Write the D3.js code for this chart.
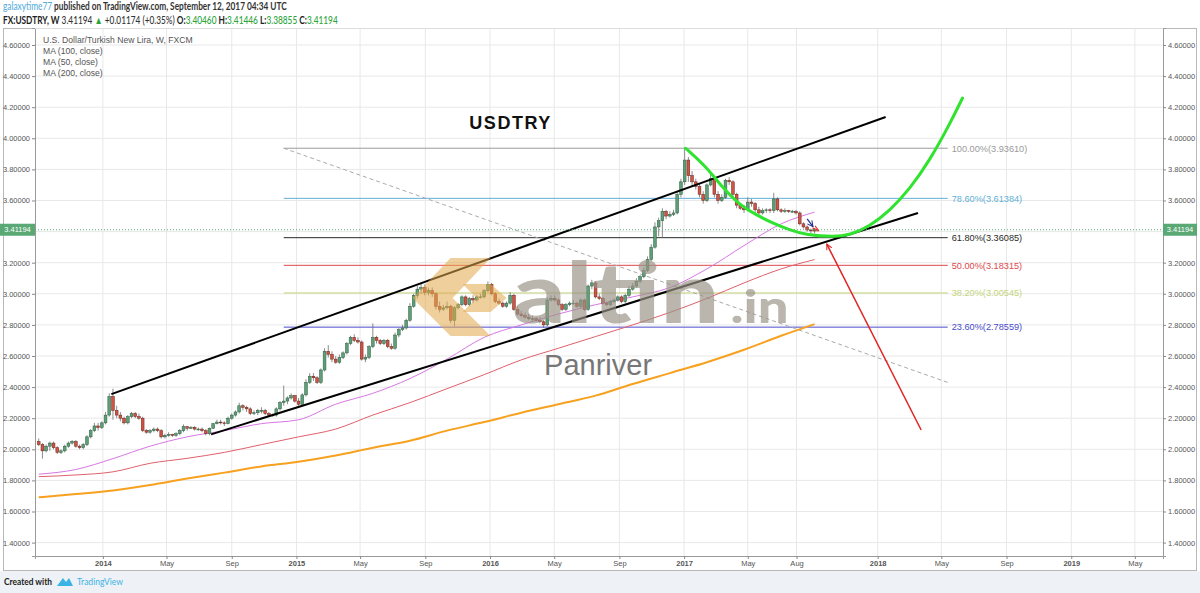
<!DOCTYPE html>
<html><head><meta charset="utf-8">
<script src="https://cdn.jsdelivr.net/npm/d3@7"></script>
<style>body{margin:0;background:#fff;}svg{display:block;font-family:"Liberation Sans",Arial,sans-serif;}</style>
</head><body><svg id="c" width="1200" height="593"></svg>
<script>
// ---------- DATA ----------
const firstWeek = "2013-09-02";
const firstOpen = 2.05;
const closes = [2.03,1.99,2.02,2.04,2.01,1.98,1.99,2.02,2.04,2.05,
 2.02,2.01,2.03,2.08,2.12,2.15,2.14,2.17,2.22,2.34,
 2.25,2.22,2.20,2.17,2.21,2.23,2.21,2.20,2.12,2.11,
 2.12,2.13,2.12,2.08,2.09,2.095,2.09,2.10,2.12,2.145,
 2.135,2.14,2.13,2.13,2.12,2.10,2.135,2.165,2.175,2.17,
 2.165,2.20,2.22,2.24,2.28,2.27,2.26,2.23,2.235,2.25,
 2.25,2.23,2.22,2.22,2.26,2.30,2.31,2.33,2.345,2.31,
 2.29,2.35,2.43,2.47,2.46,2.43,2.51,2.63,2.61,2.58,
 2.56,2.59,2.62,2.68,2.72,2.70,2.69,2.58,2.59,2.66,
 2.72,2.70,2.68,2.70,2.66,2.65,2.735,2.77,2.78,2.83,
 2.92,2.99,3.03,3.04,3.01,3.02,3.00,2.92,2.90,2.91,
 2.92,2.83,2.91,2.93,2.98,2.93,2.97,2.96,2.98,2.98,
 3.02,3.06,3.00,2.95,2.94,2.92,2.94,2.99,2.90,2.87,
 2.86,2.85,2.84,2.84,2.83,2.82,2.80,2.96,2.97,2.96,
 2.93,2.90,2.93,2.94,2.94,2.92,2.96,2.90,3.05,3.07,
 2.98,2.97,2.94,2.93,2.95,2.96,2.98,2.95,2.99,3.03,
 3.05,3.08,3.11,3.15,3.22,3.30,3.43,3.47,3.53,3.50,
 3.51,3.52,3.64,3.72,3.86,3.76,3.72,3.69,3.64,3.60,
 3.70,3.74,3.64,3.60,3.62,3.73,3.72,3.64,3.57,3.55,
 3.54,3.59,3.58,3.54,3.52,3.535,3.54,3.535,3.61,3.54,
 3.53,3.535,3.53,3.53,3.52,3.45,3.43,3.41,3.4046,3.41194];
const highs = [2.07,2.04,2.03,2.05,2.05,2.02,2.00,2.03,2.05,2.06,
 2.06,2.03,2.04,2.09,2.13,2.17,2.17,2.18,2.24,2.36,
 2.39,2.28,2.24,2.21,2.22,2.24,2.24,2.23,2.21,2.13,
 2.13,2.14,2.14,2.13,2.10,2.11,2.10,2.11,2.13,2.16,
 2.15,2.15,2.15,2.14,2.14,2.13,2.14,2.17,2.19,2.19,
 2.18,2.21,2.23,2.25,2.30,2.29,2.28,2.27,2.25,2.26,
 2.27,2.26,2.24,2.23,2.27,2.31,2.41,2.34,2.36,2.35,
 2.33,2.36,2.45,2.49,2.49,2.47,2.52,2.65,2.67,2.63,
 2.60,2.61,2.63,2.69,2.73,2.74,2.72,2.70,2.61,2.67,
 2.81,2.73,2.71,2.71,2.71,2.68,2.75,2.78,2.80,2.84,
 2.94,3.00,3.05,3.07,3.06,3.04,3.04,3.01,2.95,2.93,
 2.95,2.93,2.92,2.94,2.99,2.99,2.98,2.99,2.99,3.00,
 3.03,3.08,3.07,3.01,2.97,2.95,2.95,3.01,3.00,2.92,
 2.89,2.88,2.87,2.86,2.85,2.85,2.83,2.98,2.99,2.99,
 2.97,2.94,2.94,2.95,2.96,2.95,2.97,2.97,3.06,3.09,
 3.08,3.00,2.98,2.95,2.96,2.97,2.99,2.99,3.00,3.05,
 3.07,3.10,3.12,3.17,3.24,3.32,3.46,3.49,3.55,3.54,
 3.53,3.54,3.66,3.74,3.94,3.88,3.79,3.74,3.71,3.66,
 3.71,3.78,3.75,3.66,3.64,3.74,3.75,3.73,3.65,3.58,
 3.57,3.62,3.61,3.59,3.56,3.55,3.55,3.55,3.65,3.62,
 3.55,3.55,3.54,3.54,3.54,3.53,3.46,3.44,3.42,3.41446];
const lows = [2.02,1.94,1.98,1.99,2.00,1.97,1.97,1.98,2.01,2.03,
 2.01,2.00,2.00,2.02,2.07,2.11,2.12,2.13,2.16,2.21,
 2.19,2.20,2.18,2.16,2.16,2.20,2.20,2.19,2.11,2.10,
 2.10,2.11,2.11,2.07,2.07,2.08,2.08,2.08,2.09,2.11,
 2.12,2.13,2.12,2.12,2.11,2.09,2.09,2.13,2.16,2.16,
 2.15,2.16,2.19,2.21,2.23,2.25,2.24,2.22,2.22,2.22,
 2.23,2.22,2.21,2.21,2.21,2.25,2.28,2.29,2.32,2.30,
 2.28,2.28,2.34,2.42,2.44,2.42,2.42,2.50,2.59,2.56,
 2.55,2.55,2.58,2.61,2.67,2.69,2.68,2.57,2.56,2.58,
 2.65,2.68,2.67,2.67,2.65,2.64,2.64,2.72,2.76,2.77,
 2.82,2.91,2.97,3.00,2.99,2.99,2.98,2.90,2.88,2.89,
 2.90,2.81,2.79,2.90,2.92,2.92,2.92,2.94,2.95,2.97,
 2.97,3.01,2.99,2.94,2.93,2.91,2.91,2.93,2.89,2.86,
 2.85,2.84,2.83,2.82,2.82,2.81,2.78,2.79,2.95,2.95,
 2.92,2.89,2.89,2.92,2.93,2.91,2.91,2.89,2.89,3.03,
 2.97,2.96,2.93,2.92,2.92,2.94,2.95,2.94,2.94,2.98,
 3.02,3.04,3.07,3.10,3.14,3.21,3.29,3.37,3.36,3.48,
 3.49,3.50,3.51,3.62,3.70,3.72,3.69,3.67,3.62,3.58,
 3.59,3.69,3.62,3.58,3.59,3.61,3.70,3.62,3.55,3.54,
 3.52,3.53,3.56,3.52,3.50,3.51,3.52,3.52,3.52,3.53,
 3.52,3.52,3.52,3.52,3.51,3.44,3.42,3.40,3.39,3.38855];

// moving averages read at week indices
const maWeekIdx = [0,10,20,30,40,50,60,70,80,90,100,110,120,130,140,150,160,170,180,190,200,209];
const ma50  = [1.84,1.87,1.94,2.02,2.08,2.12,2.165,2.19,2.29,2.36,2.455,2.58,2.72,2.80,2.87,2.93,2.98,3.04,3.16,3.31,3.45,3.525];
const ma100 = [1.824,1.835,1.855,1.91,1.942,1.98,2.03,2.08,2.13,2.22,2.30,2.39,2.48,2.575,2.65,2.725,2.80,2.88,2.97,3.07,3.16,3.22];
const ma200 = [1.691,1.712,1.735,1.77,1.812,1.85,1.89,1.92,1.96,2.01,2.055,2.12,2.175,2.235,2.29,2.345,2.42,2.49,2.56,2.64,2.73,2.805];

const yTicks = [1.4,1.6,1.8,2.0,2.2,2.4,2.6,2.8,3.0,3.2,3.4,3.6,3.8,4.0,4.2,4.4,4.6];
const xTickDates = ["2014-01-01","2014-05-01","2014-09-01","2015-01-01","2015-05-01","2015-09-01","2016-01-01","2016-05-01","2016-09-01","2017-01-01","2017-05-01","2017-08-01","2018-01-01","2018-05-01","2018-09-01","2019-01-01","2019-05-01"];
const xTickLabels = ["2014","May","Sep","2015","May","Sep","2016","May","Sep","2017","May","Aug","2018","May","Sep","2019","May"];

const fibLabels = ["100.00%","78.60%","61.80%","50.00%","38.20%","23.60%"];
const fibPrices = [3.93610,3.61384,3.36085,3.18315,3.00545,2.78559];
const fibColors = ["#9a9a9a","#5fb0d6","#2a2a2a","#e0474c","#c3d47a","#4b4bcf"];
const fibRange = ["2014-12-08","2018-05-13"];
const fibTrend = [["2014-12-08",3.9361],["2018-05-13",2.4302]];

const channelUpper = [["2014-01-17",2.355],["2018-01-16",4.137]];
const channelLower = [["2014-07-24",2.096],["2018-03-18",3.52]];
const greenCurve = [["2017-01-04",3.936],["2017-02-12",3.817],["2017-03-15",3.68],["2017-04-16",3.571],["2017-05-17",3.507],["2017-06-17",3.455],["2017-07-19",3.41],["2017-08-19",3.378],["2017-10-12",3.365],["2017-11-09",3.378],["2017-12-16",3.432],["2018-01-23",3.531],["2018-03-02",3.672],["2018-04-09",3.857],["2018-05-16",4.086],["2018-06-10",4.259]];
const redArrow = [["2018-03-24",2.124],["2017-09-27",3.32]];
const navyArrow = [["2017-08-21",3.482],["2017-09-01",3.432]];
const smallRedArrow = [["2017-08-31",3.425],["2017-09-12",3.405]];
const lastPrice = 3.41194;

const titleAnchor = ["2015-11-23",4.06];
const panriverAnchor = ["2016-04-12",2.478];
const logoAnchor = ["2015-08-08",3.23];

// ---------- SETUP ----------
const W=1200,H=593;
const P={l:35,r:1163,t:28,b:556};
const parse=d3.utcParse("%Y-%m-%d");
const x=d3.scaleUtc().domain([parse("2013-08-26"),parse("2019-06-23")]).range([P.l,P.r]);
const y=d3.scaleLinear().domain([1.3138,4.7093]).range([P.b,P.t]);
const svg=d3.select("#c");
const defs=svg.append("defs");
defs.append("clipPath").attr("id","clip").append("rect").attr("x",P.l).attr("y",P.t).attr("width",P.r-P.l).attr("height",P.b-P.t);
function mk(id,color){
  defs.append("marker").attr("id",id).attr("viewBox","0 0 10 10").attr("refX",9).attr("refY",5)
   .attr("markerWidth",7).attr("markerHeight",7).attr("orient","auto-start-reverse").attr("markerUnits","userSpaceOnUse")
   .append("path").attr("d","M1,1 L9,5 L1,9").attr("fill","none").attr("stroke",color).attr("stroke-width",1.4);
}
mk("arrRed","#e02424");mk("arrNavy","#1b2a8a");

svg.append("rect").attr("width",W).attr("height",H).attr("fill","#fff");
svg.append("rect").attr("x",0).attr("y",571).attr("width",W).attr("height",22).attr("fill","#eef1f5");
svg.append("rect").attr("x",3.5).attr("y",28.5).attr("width",1193).attr("height",542).attr("fill","#fff").attr("stroke","#b8b8b8");

// header: one text per line, natural flow, then horizontally scaled to the target width
const G="#2aa53a";
function hline(parts,xx,yy,target){
  const g=svg.append("g");
  const t=g.append("text").attr("x",0).attr("y",0).attr("font-family","Lato,sans-serif").attr("font-size",10.5);
  parts.forEach(p=>t.append("tspan").attr("fill",p[1]).attr("font-weight",p[2]?700:500).text(p[0]));
  const w=t.node().getComputedTextLength();
  g.attr("transform",`translate(${xx},${yy}) scale(${target/w},1)`);
}
hline([["galaxytime77","#5aaede",false],[" published on TradingView.com, September 12, 2017 04:34 UTC","#333",true]],3,10,284);
hline([["FX:USDTRY, W","#222",true],["  3.41194 ","#333",false],["▲","#2aa53a",false],[" +0.01174 (+0.35%) ","#333",false],
  ["O:","#222",true],["3.40460 ",G,false],["H:","#222",true],["3.41446 ",G,false],
  ["L:","#222",true],["3.38855 ",G,false],["C:","#222",true],["3.41194",G,false]],3,24,335);

// grid
const grid=svg.append("g");
grid.selectAll("line.v").data(xTickDates).join("line").attr("x1",d=>x(parse(d))).attr("x2",d=>x(parse(d)))
  .attr("y1",P.t).attr("y2",P.b).attr("stroke","#e8e8e8");
grid.selectAll("line.h").data(yTicks).join("line").attr("y1",d=>y(d)).attr("y2",d=>y(d))
  .attr("x1",P.l).attr("x2",P.r).attr("stroke","#e8e8e8");

// axes
const fmt=d3.format(".5f");
const ax1=svg.append("g").attr("transform",`translate(${P.l},0)`).call(d3.axisLeft(y).tickValues(yTicks).tickFormat(fmt).tickSize(3).tickPadding(2));
const ax2=svg.append("g").attr("transform",`translate(${P.r},0)`).call(d3.axisRight(y).tickValues(yTicks).tickFormat(fmt).tickSize(3).tickPadding(2));
const ax3=svg.append("g").attr("transform",`translate(0,${P.b})`).call(d3.axisBottom(x).tickValues(xTickDates.map(parse)).tickFormat((d,i)=>xTickLabels[i]).tickSize(3).tickPadding(2));
[ax1,ax2,ax3].forEach(a=>{a.selectAll("text").attr("font-size",7.5).attr("fill","#555").attr("font-family","Liberation Sans,Arial");a.selectAll("line").attr("stroke","#888");a.select(".domain").attr("stroke","#999");});
ax3.selectAll("text").attr("font-weight",(d,i)=>/^\d/.test(xTickLabels[i])?700:400);
svg.append("line").attr("x1",P.l).attr("x2",P.r).attr("y1",P.t+0.5).attr("y2",P.t+0.5).attr("stroke","#ddd");

const plot=svg.append("g").attr("clip-path","url(#clip)");

// legend
const leg=["U.S. Dollar/Turkish New Lira, W, FXCM","MA (100, close)","MA (50, close)","MA (200, close)"];
svg.selectAll("text.leg").data(leg).join("text").attr("x",43).attr("y",(d,i)=>42.5+i*11).attr("font-size",8.6).attr("fill","#555").text(d=>d);

// fib
const fx0=x(parse(fibRange[0])),fx1=x(parse(fibRange[1]));
plot.selectAll("line.fib").data(fibPrices).join("line").attr("x1",fx0).attr("x2",fx1).attr("y1",d=>y(d)).attr("y2",d=>y(d))
  .attr("stroke",(d,i)=>fibColors[i]).attr("stroke-width",1);
svg.selectAll("text.fib").data(fibPrices).join("text").attr("x",fx1+4).attr("y",d=>y(d)+3.3).attr("font-size",9.2)
  .attr("fill",(d,i)=>fibColors[i]).text((d,i)=>`${fibLabels[i]}(${d.toFixed(5)})`);
const line=d3.line().x(d=>x(parse(d[0]))).y(d=>y(d[1]));
plot.append("path").attr("d",line(fibTrend)).attr("stroke","#aaa").attr("stroke-dasharray","4,3").attr("fill","none");

// MAs
const wk=i=>d3.utcDay.offset(parse(firstWeek),7*i);
const maLine=d3.line().curve(d3.curveMonotoneX).x(d=>x(wk(d[0]))).y(d=>y(d[1]));
[[ma200,"#f7a11f",2],[ma100,"#e0606c",1],[ma50,"#d877e4",1]].forEach(m=>{
  plot.append("path").attr("d",maLine(maWeekIdx.map((w,i)=>[w,m[0][i]]))).attr("fill","none").attr("stroke",m[1]).attr("stroke-width",m[2]);
});

// candles
const candles=closes.map((c,i)=>({d:wk(i),o:i?closes[i-1]:firstOpen,c,h:highs[i],l:lows[i]}));
const cg=plot.append("g");
cg.selectAll("line").data(candles).join("line").attr("x1",d=>x(d.d)).attr("x2",d=>x(d.d)).attr("y1",d=>y(d.h)).attr("y2",d=>y(d.l)).attr("stroke","#6e6e70").attr("stroke-width",0.8);
cg.selectAll("rect").data(candles).join("rect").attr("x",d=>x(d.d)-1.4).attr("width",2.8)
  .attr("y",d=>y(Math.max(d.o,d.c))).attr("height",d=>Math.max(0.8,Math.abs(y(d.o)-y(d.c))))
  .attr("fill",d=>d.c>=d.o?"#5e9f7a":"#cf5445").attr("stroke",d=>d.c>=d.o?"#2c5c3e":"#6a2219").attr("stroke-width",0.5);

// watermark
const lx=x(parse(logoAnchor[0])),ly=y(logoAnchor[1]);
const wm=svg.append("g").attr("transform",`translate(${lx},${ly})`);
wm.append("path").attr("d","M38,0 L78,0 L40,40 L78,78 L38,78 L0,40 Z").attr("fill","#e2a94a").attr("opacity",0.55);
wm.append("path").attr("d","M50,26 L78,26 L94,40 L78,54 L50,54 L64,40 Z").attr("fill","#e2a94a").attr("opacity",0.55);
wm.append("text").attr("x",100).attr("y",65).attr("font-family","Lato,sans-serif").attr("font-size",84).attr("font-weight",900).attr("textLength",207).attr("lengthAdjust","spacingAndGlyphs").attr("fill","#9a9487").attr("opacity",0.68).text("altin");
wm.append("text").attr("x",318).attr("y",65).attr("font-family","Lato,sans-serif").attr("font-size",46).attr("font-weight",900).attr("textLength",58).attr("lengthAdjust","spacingAndGlyphs").attr("fill","#9a9487").attr("opacity",0.68).text(".in");
svg.append("text").attr("x",x(parse(panriverAnchor[0]))).attr("y",y(panriverAnchor[1])).attr("font-size",29).attr("fill","#777").text("Panriver");

// channel lines
[channelUpper,channelLower].forEach(c=>plot.append("path").attr("d",line(c)).attr("stroke","#000").attr("stroke-width",2).attr("fill","none"));
// green curve
plot.append("path").attr("d",d3.line().curve(d3.curveBasis).x(d=>x(parse(d[0]))).y(d=>y(d[1]))(greenCurve)).attr("stroke","#2fe32f").attr("stroke-width",3).attr("fill","none").attr("stroke-linecap","round");
// arrows
plot.append("path").attr("d",line(redArrow)).attr("stroke","#e02424").attr("stroke-width",1.5).attr("fill","none").attr("marker-end","url(#arrRed)");
plot.append("path").attr("d",line(navyArrow)).attr("stroke","#1b2a8a").attr("stroke-width",1.2).attr("fill","none").attr("marker-end","url(#arrNavy)");
plot.append("path").attr("d",line(smallRedArrow)).attr("stroke","#e02424").attr("stroke-width",1.2).attr("fill","none").attr("marker-end","url(#arrRed)");

// title
svg.append("text").attr("x",x(parse(titleAnchor[0]))).attr("y",y(titleAnchor[1])).attr("font-size",18).attr("font-weight",700).attr("fill","#111").attr("textLength",81).text("USDTRY");

// last price
plot.append("line").attr("x1",P.l).attr("x2",P.r).attr("y1",y(lastPrice)).attr("y2",y(lastPrice)).attr("stroke","#5cae78").attr("stroke-dasharray","1,2");
[[0,P.l],[P.r,1197-P.r]].forEach(b=>{
  svg.append("rect").attr("x",b[0]).attr("y",y(lastPrice)-6).attr("width",b[1]).attr("height",12).attr("fill","#5aa874");
  svg.append("text").attr("x",b[0]+b[1]/2).attr("y",y(lastPrice)+2.7).attr("text-anchor","middle").attr("font-size",7.5).attr("fill","#fff").text(fmt(lastPrice));
});

// footer
svg.append("text").attr("x",4).attr("y",585).attr("font-family","Lato,sans-serif").attr("font-weight",700).attr("font-size",10).attr("fill","#222").attr("textLength",48).attr("lengthAdjust","spacingAndGlyphs").text("Created with");
svg.append("path").attr("d","M57,586 L63,578 L66,582 L69,578 L73,586 Z").attr("fill","#3bb3e4");
svg.append("text").attr("x",77).attr("y",585).attr("font-family","Lato,sans-serif").attr("font-size",10).attr("fill","#3bb3e4").attr("textLength",46).attr("lengthAdjust","spacingAndGlyphs").text("TradingView");
</script></body></html>
